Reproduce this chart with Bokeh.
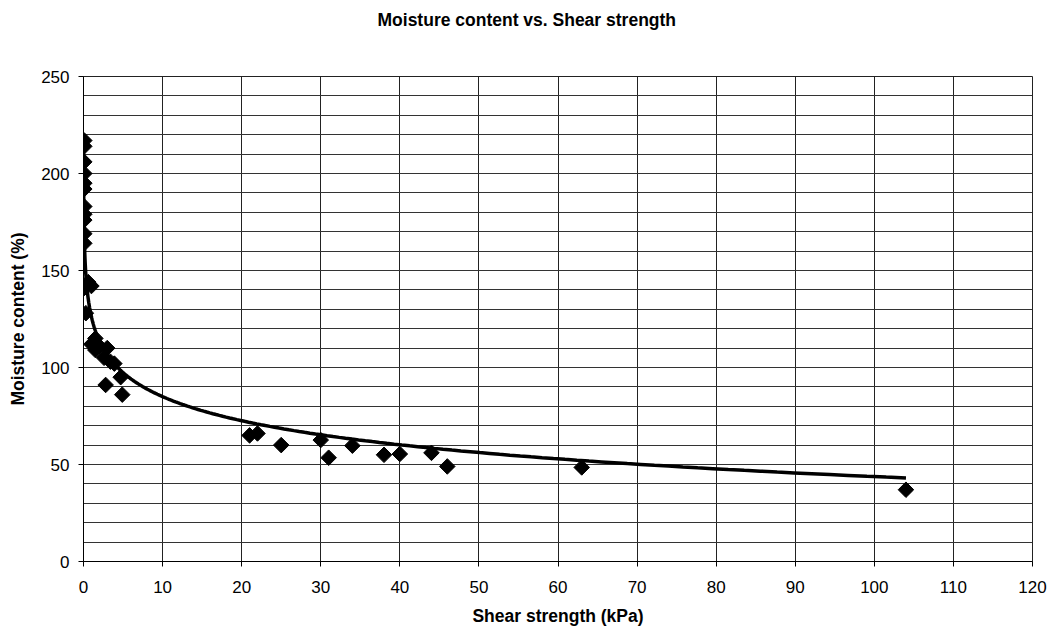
import numpy as np
from bokeh.plotting import figure
from bokeh.models import Range1d, FixedTicker, Title
from bokeh.embed import file_html
from bokeh.resources import INLINE

# ---- data ----
shear_kpa = [0.1, 0.1, 0.1, 0.1, 0.1, 0.1, 0.1, 0.1, 0.1, 0.1, 0.1,
             0.1, 0.6, 1.0, 0.3,
             1.0, 1.5, 1.5, 2.0,
             3.0, 2.6, 3.4, 3.9, 4.7, 2.8, 4.9,
             21, 22, 25, 30, 31, 34, 38, 40, 44, 46, 63, 104]
moisture_pct = [217, 214, 206, 200, 195, 192, 183, 179, 176, 169, 164,
                141, 144, 142, 128,
                112, 115, 109, 111,
                110, 105, 103, 102, 95, 91, 86,
                65, 66, 60, 62.6, 53.5, 59.7, 55, 55.4, 56, 49, 48.5, 37]

# logarithmic trendline y = A + B*ln(x), coefficients
TREND_A = 126.2
TREND_B = -17.9
TREND_X_MIN = 0.0063
TREND_X_MAX = 104

x_ticks = list(range(0, 121, 10))
y_ticks = list(range(0, 251, 50))
y_grid = list(range(0, 251, 10))

TITLE = "Moisture content vs. Shear strength"
X_LABEL = "Shear strength (kPa)"
Y_LABEL = "Moisture content (%)"

FONT = "Liberation Sans"

p = figure(width=1054, height=628, output_backend="svg", toolbar_location=None,
           x_range=Range1d(0, 120), y_range=Range1d(0, 250),
           min_border_left=83, min_border_right=22, min_border_top=76, min_border_bottom=67,
           title=TITLE)

# spacer between frame and title so the title sits near the top of the canvas
spacer = Title(text=" ", text_font=FONT, text_font_size="16px", standoff=26)
p.add_layout(spacer, "above")

p.title.align = "left"
p.title.offset = 294
p.title.text_font = FONT
p.title.text_font_size = "17.5px"
p.title.text_font_style = "bold"
p.title.text_color = "black"
p.title.standoff = 4

p.background_fill_color = "white"
p.border_fill_color = "white"
p.outline_line_color = "#222222"
p.outline_line_width = 1

# axes
p.xaxis.ticker = FixedTicker(ticks=x_ticks)
p.yaxis.ticker = FixedTicker(ticks=y_ticks, minor_ticks=y_grid)
for ax in (p.xaxis[0], p.yaxis[0]):
    ax.axis_line_color = "black"
    ax.axis_line_width = 1
    ax.major_tick_line_color = "black"
    ax.major_tick_out = 5
    ax.major_tick_in = 0
    ax.minor_tick_line_color = None
    ax.major_label_text_font = FONT
    ax.major_label_text_font_size = "17px"
    ax.major_label_text_color = "black"
    ax.axis_label_text_font = FONT
    ax.axis_label_text_font_size = "17.5px"
    ax.axis_label_text_font_style = "bold"
    ax.axis_label_text_color = "black"

p.xaxis.axis_label = X_LABEL
p.yaxis.axis_label = Y_LABEL
p.xaxis.major_label_standoff = 14
p.xaxis.axis_label_standoff = 10
p.yaxis.major_label_standoff = 9
p.yaxis.axis_label_standoff = 10

# grids
p.xgrid.grid_line_color = "#222222"
p.xgrid.grid_line_width = 1
p.ygrid.grid_line_color = "#333333"
p.ygrid.grid_line_width = 1
p.ygrid.minor_grid_line_color = "#333333"
p.ygrid.minor_grid_line_width = 1

# trendline
tx = np.exp(np.linspace(np.log(TREND_X_MIN), np.log(TREND_X_MAX), 400))
ty = TREND_A + TREND_B * np.log(tx)
p.line(tx, ty, line_color="black", line_width=3.5)

# data points (diamonds)
p.scatter(shear_kpa, moisture_pct, marker="square", angle=np.pi / 4, size=11,
          fill_color="black", line_color="black")

open("out.html", "w").write(file_html(p, INLINE))
